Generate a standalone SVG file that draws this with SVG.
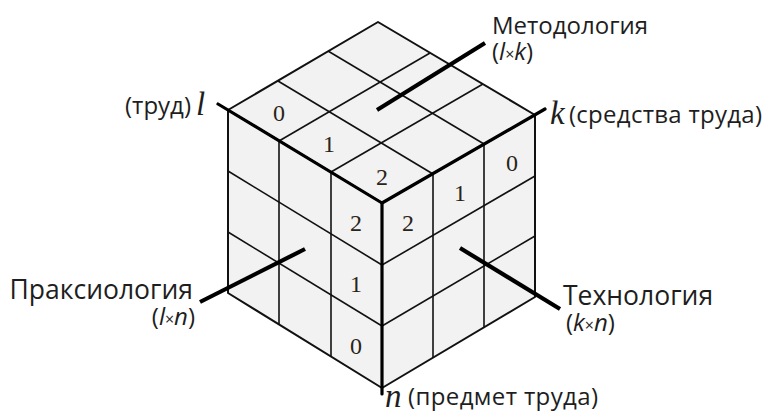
<svg xmlns="http://www.w3.org/2000/svg" width="767" height="414" viewBox="0 0 767 414">
<style>
.face{fill:#f2f2f2;stroke:#111;stroke-width:2;stroke-linejoin:round}
.grid{stroke:#111;stroke-width:1.6;fill:none}
.edge{stroke:#000;stroke-width:3.2;fill:none;stroke-linecap:round;stroke-linejoin:round}
.lead{stroke:#000;stroke-width:4.2;stroke-linecap:butt;fill:none}
.lbl{font-family:"Open Sans","Noto Sans","DejaVu Sans",sans-serif;font-size:24px;fill:#1e1e1e}
.big{font-size:26.5px}
.ax{font-family:"Liberation Serif","Times New Roman",serif;font-style:italic;font-size:33px;fill:#1e1e1e}
.dig{font-family:"Liberation Serif","Times New Roman",serif;font-size:24px;fill:#2a2418;text-anchor:middle}
.it{font-style:italic}
.x{font-size:16px}
</style>
<rect width="767" height="414" fill="#fff"/>
<g id="top-face">
<polygon class="face" points="228,110 378,22 535,115 382,203"/>
<line class="grid" x1="278" y1="81" x2="433" y2="174"/>
<line class="grid" x1="328" y1="51" x2="484" y2="144"/>
<line class="grid" x1="279" y1="141" x2="430" y2="53"/>
<line class="grid" x1="331" y1="172" x2="483" y2="84"/>
<text class="dig" x="279" y="121">0</text>
<text class="dig" x="329" y="152">1</text>
<text class="dig" x="382" y="185">2</text>
</g>
<g id="left-face">
<polygon class="face" points="228,110 382,203 382,388 228,293"/>
<line class="grid" x1="279" y1="141" x2="279" y2="325"/>
<line class="grid" x1="331" y1="172" x2="331" y2="356"/>
<line class="grid" x1="228" y1="171" x2="382" y2="265"/>
<line class="grid" x1="228" y1="232" x2="382" y2="326"/>
<text class="dig" x="356" y="231">2</text>
<text class="dig" x="356" y="292">1</text>
<text class="dig" x="356" y="354">0</text>
</g>
<g id="right-face">
<polygon class="face" points="382,203 535,115 535,297 382,388"/>
<line class="grid" x1="433" y1="174" x2="433" y2="358"/>
<line class="grid" x1="484" y1="144" x2="484" y2="327"/>
<line class="grid" x1="382" y1="265" x2="535" y2="176"/>
<line class="grid" x1="382" y1="326" x2="535" y2="236"/>
<text class="dig" x="408" y="231">2</text>
<text class="dig" x="460" y="201">1</text>
<text class="dig" x="512" y="171">0</text>
</g>
<g id="axes">
<polyline class="edge" points="218,104 382,203 545,109"/>
<line class="edge" x1="382" y1="203" x2="382" y2="394"/>
</g>
<g id="connectors">
<line class="lead" x1="377" y1="110" x2="485" y2="43"/>
<line class="lead" x1="200" y1="302" x2="305" y2="249"/>
<line class="lead" x1="460" y1="248" x2="560" y2="309"/>
</g>
<g id="label-l">
<text class="lbl" x="125" y="114">(труд)</text>
<text class="ax" x="196" y="115">l</text>
</g>
<g id="label-k">
<text class="ax" x="550" y="124">k</text>
<text class="lbl" x="569" y="123" textLength="193">(средства труда)</text>
</g>
<g id="label-n">
<text class="ax" x="385" y="407">n</text>
<text class="lbl" x="408" y="405" textLength="190">(предмет труда)</text>
</g>
<g id="label-metodologiya">
<text class="lbl" x="492" y="34">Методология</text>
<text class="lbl" x="492" y="60">(<tspan class="it">l</tspan><tspan class="x">×</tspan><tspan class="it">k</tspan>)</text>
</g>
<g id="label-praksiologiya">
<text class="lbl big" x="193" y="299" text-anchor="end">Праксиология</text>
<text class="lbl" x="195" y="325" text-anchor="end">(<tspan class="it">l</tspan><tspan class="x">×</tspan><tspan class="it">n</tspan>)</text>
</g>
<g id="label-tekhnologiya">
<text class="lbl big" x="563" y="305">Технология</text>
<text class="lbl" x="566" y="331">(<tspan class="it">k</tspan><tspan class="x">×</tspan><tspan class="it">n</tspan>)</text>
</g>
</svg>
